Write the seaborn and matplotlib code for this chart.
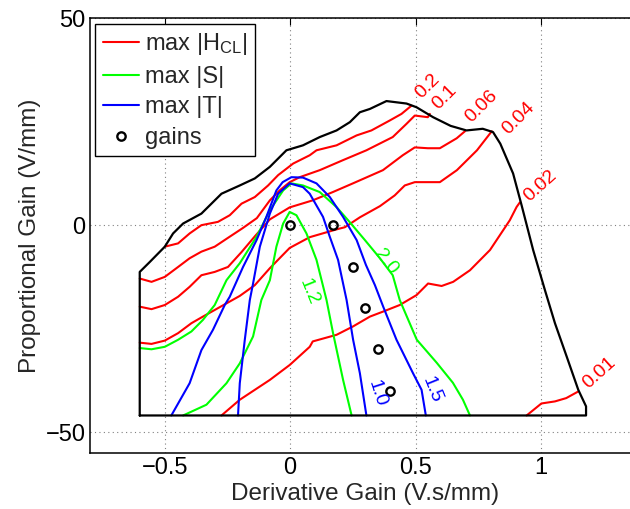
import matplotlib
matplotlib.use("Agg")
import matplotlib.pyplot as plt
from matplotlib.lines import Line2D
import seaborn as sns

# ---------------- data ----------------
# feasible-region boundary
bound_D = [-0.6, -0.6, -0.56, -0.50, -0.467, -0.427, -0.354, -0.314, -0.274, -0.201, -0.141,
           -0.081, -0.015, 0.051, 0.118, 0.185, 0.238, 0.278, 0.318, 0.384, 0.464, 0.504,
           0.57, 0.64, 0.703, 0.768, 0.809, 0.838, 0.889, 0.923, 0.969, 1.016, 1.056, 1.103,
           1.149, 1.18, 1.18, -0.6]
bound_P = [-46, -11.3, -8.9, -5.2, -2.0, 0.4, 2.8, 5.2, 7.6, 9.6, 11.3,
           14.1, 18.1, 19.3, 21.3, 22.9, 24.9, 27.3, 28.1, 30.0, 29.4, 28.5,
           26.1, 24.0, 22.9, 23.3, 22.5, 19.7, 12.5, 4.8, -6.0, -15.7, -23.7, -31.8,
           -39.8, -43.8, -46, -46]

# max |H_CL| contours
hcl_020_D = [-0.50, -0.447, -0.401, -0.354, -0.288, -0.241, -0.194, -0.141, -0.088, -0.048,
             0.012, 0.078, 0.105, 0.185, 0.265, 0.324, 0.397, 0.444, 0.484]
hcl_020_P = [-5.2, -4.4, -2.0, 0.0, 0.8, 2.4, 5.2, 6.8, 9.6, 12.1,
             14.9, 16.9, 18.1, 19.3, 21.7, 22.9, 25.3, 26.9, 28.9]
hcl_010_D = [-0.6, -0.553, -0.50, -0.447, -0.401, -0.354, -0.301, -0.249, -0.189, -0.133,
             -0.081, -0.042, -0.002, 0.038, 0.118, 0.210, 0.304, 0.409, 0.464, 0.497, 0.549, 0.557]
hcl_010_P = [-12.9, -13.7, -12.5, -10.1, -8.0, -6.4, -5.2, -3.1, -0.7, 1.7,
             6.0, 8.4, 10.4, 11.6, 13.3, 15.7, 18.1, 21.3, 24.5, 26.5, 26.1, 26.9]
hcl_006_D = [-0.6, -0.553, -0.50, -0.447, -0.401, -0.354, -0.301, -0.248, -0.194, -0.141,
             -0.081, -0.002, 0.090, 0.170, 0.250, 0.370, 0.449, 0.497, 0.549, 0.597, 0.664, 0.697]
hcl_006_P = [-19.7, -20.3, -19.3, -17.3, -14.9, -12.1, -11.3, -10.1, -6.5, -2.7,
             1.4, 4.3, 6.0, 8.0, 10.1, 13.3, 16.9, 18.8, 18.6, 18.6, 21.0, 22.7]
hcl_004_D = [-0.6, -0.553, -0.50, -0.447, -0.394, -0.348, -0.301, -0.254, -0.201, -0.141,
             -0.081, -0.002, 0.078, 0.186, 0.218, 0.278, 0.358, 0.417, 0.457, 0.497, 0.597,
             0.665, 0.745, 0.804]
hcl_004_P = [-28.4, -28.7, -27.9, -26.1, -23.7, -22.1, -20.5, -18.9, -17.1, -14.5,
             -10.4, -5.5, -2.9, -1.0, -0.5, 1.9, 4.6, 7.2, 9.6, 10.4, 10.4,
             13.3, 18.1, 22.7]
hcl_002_D = [-0.274, -0.201, -0.081, -0.002, 0.078, 0.090, 0.185, 0.250, 0.318, 0.370, 0.437,
             0.504, 0.550, 0.604, 0.650, 0.717, 0.797, 0.876, 0.903, 0.916]
hcl_002_P = [-46, -42.2, -37.4, -33.8, -29.4, -28.1, -26.5, -24.5, -22.1, -20.9, -19.3,
             -16.9, -14.1, -14.7, -13.7, -10.9, -6.0, 1.2, 4.4, 5.5]
hcl_001_D = [0.943, 1.002, 1.056, 1.101, 1.149]
hcl_001_P = [-46, -43.1, -42.6, -41.8, -40.2]

# max |S| contours
s_20_D = [-0.6, -0.553, -0.50, -0.447, -0.394, -0.348, -0.301, -0.254, -0.201, -0.134,
          -0.081, -0.028, 0.005, 0.051, 0.118, 0.186, 0.238, 0.298, 0.358, 0.409, 0.437,
          0.505, 0.585, 0.649, 0.689, 0.717]
s_20_P = [-29.7, -30.0, -29.4, -27.7, -25.7, -22.9, -19.3, -13.3, -9.2, -2.8,
          3.6, 8.4, 10.1, 9.6, 8.0, 4.3, 0.7, -3.6, -8.0, -12.1, -18.1,
          -27.7, -33.3, -38.1, -42.2, -46]
s_12_D = [-0.427, -0.334, -0.254, -0.201, -0.148, -0.115, -0.081, -0.055, -0.028, -0.002,
          0.025, 0.065, 0.105, 0.145, 0.171, 0.211, 0.245]
s_12_P = [-46, -43.4, -38.2, -33.4, -26.9, -18.1, -13.3, -5.2, 0.4, 3.2,
          2.4, -2.0, -8.4, -18.1, -26.1, -37.4, -46]

# max |T| contours
t_15_D = [-0.474, -0.401, -0.354, -0.308, -0.261, -0.241, -0.188, -0.134, -0.095, -0.055,
          -0.030, 0.005, 0.051, 0.105, 0.158, 0.211, 0.265, 0.302, 0.338, 0.371, 0.424,
          0.490, 0.524, 0.541]
t_15_P = [-46, -38.2, -30.2, -25.3, -19.3, -17.3, -10.1, -3.6, 2.0, 8.4,
          10.4, 11.6, 11.5, 10.1, 6.8, 2.0, -3.6, -9.6, -14.5, -19.7, -27.7,
          -35.8, -39.8, -46]
t_10_D = [-0.208, -0.201, -0.181, -0.161, -0.148, -0.121, -0.081, -0.048, -0.002, 0.051,
          0.078, 0.131, 0.158, 0.191, 0.225, 0.251, 0.278, 0.304]
t_10_P = [-46, -38.2, -27.7, -18.1, -14.1, -5.2, 2.8, 7.6, 10.1, 9.2,
          7.6, 2.0, -2.8, -8.4, -18.1, -27.7, -35.8, -46]

# chosen gains
gains_D = [0.0, 0.17, 0.25, 0.30, 0.35, 0.40]
gains_P = [0, 0, -10, -20, -30, -40]

# contour labels
label_text = ["0.2", "0.1", "0.06", "0.04", "0.02", "0.01", "2.0", "1.2", "1.0", "1.5"]
label_D = [0.55, 0.617, 0.762, 0.912, 0.998, 1.232, 0.381, 0.075, 0.346, 0.565]
label_P = [33.5, 31.0, 28.8, 25.8, 9.6, -35.7, -8.9, -16.2, -40.8, -39.8]
label_rot = [45, 45, 45, 45, 42, 42, -52, -68, -72, -68]
label_col = ["red"] * 6 + ["lime"] * 2 + ["blue"] * 2

x_ticks = [-0.5, 0, 0.5, 1]
x_ticklabels = ["\u22120.5", "0", "0.5", "1"]
y_ticks = [-50, 0, 50]
y_ticklabels = ["\u221250", "0", "50"]

# ---------------- style ----------------
sns.set_theme(style="white")
plt.rcParams["font.family"] = ["Liberation Sans", "DejaVu Sans"]
plt.rcParams["mathtext.fontset"] = "custom"
plt.rcParams["mathtext.rm"] = "Liberation Sans"
plt.rcParams["mathtext.it"] = "Liberation Sans"

fig = plt.figure(figsize=(6.3, 5.09), dpi=100)
ax = fig.add_axes([0.1422, 0.1106, 1.0178 - 0.1422, 0.964 - 0.1106])

lw = 1.5
RED, GREEN, BLUE = (1, 0, 0), (0, 1, 0), (0, 0, 1)

for D, P in [(hcl_020_D, hcl_020_P), (hcl_010_D, hcl_010_P), (hcl_006_D, hcl_006_P),
             (hcl_004_D, hcl_004_P), (hcl_002_D, hcl_002_P), (hcl_001_D, hcl_001_P)]:
    sns.lineplot(x=D, y=P, sort=False, estimator=None, color=RED, linewidth=lw, ax=ax)
for D, P in [(s_20_D, s_20_P), (s_12_D, s_12_P)]:
    sns.lineplot(x=D, y=P, sort=False, estimator=None, color=GREEN, linewidth=lw, ax=ax)
for D, P in [(t_15_D, t_15_P), (t_10_D, t_10_P)]:
    sns.lineplot(x=D, y=P, sort=False, estimator=None, color=BLUE, linewidth=lw, ax=ax)
sns.lineplot(x=bound_D, y=bound_P, sort=False, estimator=None, color="black",
             linewidth=1.6, ax=ax)
sns.lineplot(x=gains_D, y=gains_P, sort=False, estimator=None, linestyle="",
             marker="o", markersize=6, markerfacecolor="none", markeredgecolor="black",
             markeredgewidth=1.7, ax=ax)

for t, d, p, r, c in zip(label_text, label_D, label_P, label_rot, label_col):
    col = GREEN if c == "lime" else (RED if c == "red" else BLUE)
    ax.text(d, p, t, color=col, fontsize=14, rotation=r, ha="center", va="center",
            rotation_mode="anchor")

ax.set_xlim(-0.8, 1.4)
ax.set_ylim(-55, 50)
ax.set_xticks(x_ticks)
ax.set_xticklabels(x_ticklabels)
ax.set_yticks(y_ticks)
ax.set_yticklabels(y_ticklabels)
ax.tick_params(direction="in", length=5, width=0.8, top=True, right=True,
               labelsize=17, pad=3, colors="black")
ax.grid(True, linestyle=(0, (1, 3)), color="0.5", linewidth=0.8)
for s in ax.spines.values():
    s.set_color("black")
    s.set_linewidth(1.1)

ax.set_xlabel("Derivative Gain (V.s/mm)", fontsize=17.5, labelpad=3)
ax.set_ylabel("Proportional Gain (V/mm)", fontsize=17.5, labelpad=3)

handles = [Line2D([], [], color=RED, lw=lw),
           Line2D([], [], color=GREEN, lw=lw),
           Line2D([], [], color=BLUE, lw=lw),
           Line2D([], [], color="black", ls="", marker="o", markersize=6,
                  markerfacecolor="none", markeredgewidth=1.7)]
labels = ["max |H$_{\\mathrm{CL}}$|", "max |S|", "max |T|", "gains"]
leg = ax.legend(handles, labels, loc="upper left", fontsize=17, frameon=True,
                fancybox=False, framealpha=1, edgecolor="black", borderpad=0.3,
                labelspacing=0.36, handlelength=1.55, handletextpad=0.25,
                borderaxespad=0.25)
leg.get_frame().set_linewidth(1.0)

fig.savefig("out.png", dpi=100)
